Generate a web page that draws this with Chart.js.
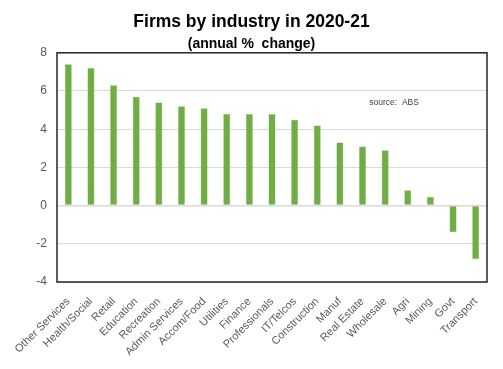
<!DOCTYPE html>
<html>
<head>
<meta charset="utf-8">
<script src="https://cdn.jsdelivr.net/npm/chart.js@4"></script>
<style>
  html, body { margin: 0; padding: 0; background: #fff; }
  #wrap { width: 503px; height: 369px; }
</style>
</head>
<body>
<div id="wrap"><canvas id="c"></canvas></div>
<script>
const industries = [
  "Other Services", "Health/Social", "Retail", "Education", "Recreation",
  "Admin Services", "Accom/Food", "Utilities", "Finance", "Professionals",
  "IT/Telcos", "Construction", "Manuf", "Real Estate", "Wholesale",
  "Agri", "Mining", "Govt", "Transport",
];
const annualChange = [
  7.4, 7.2, 6.3, 5.7, 5.4, 5.2, 5.1, 4.8, 4.8, 4.8,
  4.5, 4.2, 3.3, 3.1, 2.9, 0.8, 0.45, -1.4, -2.8,
];
const yTicks = [-4, -2, 0, 2, 4, 6, 8];
const sourceNote = "source:  ABS";

const GREEN = "#70ad47";
const GRID = "#d9d9d9";

// black box around the plot + the little source note
const frame = {
  id: "frame",
  afterDraw: (chart) => {
    const { ctx, chartArea: a, scales } = chart;
    ctx.save();
    ctx.strokeStyle = "#262626";
    ctx.lineWidth = 1.5;
    ctx.strokeRect(a.left, a.top, a.right - a.left, a.bottom - a.top);
    ctx.fillStyle = "#404040";
    ctx.font = "8.5px Arial, 'Liberation Sans'";
    ctx.textBaseline = "middle";
    ctx.fillText(sourceNote, scales.x.getPixelForValue(13.3), scales.y.getPixelForValue(5.4));
    ctx.restore();
  },
};

new Chart(document.getElementById("c"), {
  type: "bar",
  data: {
    labels: industries,
    datasets: [
      {
        data: annualChange,
        backgroundColor: GREEN,
        borderColor: "#8dc26a",
        borderWidth: 0.5,
        categoryPercentage: 1,
        barPercentage: 0.31,
      },
    ],
  },
  options: {
    responsive: true,
    maintainAspectRatio: false,
    animation: false,
    devicePixelRatio: 1,
    layout: { padding: 0 },
    plugins: {
      legend: { display: false },
      tooltip: { enabled: false },
      title: {
        display: true,
        text: "Firms by industry in 2020-21",
        color: "#000",
        font: { family: "Arial, 'Liberation Sans'", size: 17.5, weight: "bold" },
        padding: { top: 12, bottom: 3 },
      },
      subtitle: {
        display: true,
        text: "(annual %  change)",
        color: "#000",
        font: { family: "Arial, 'Liberation Sans'", size: 14, weight: "bold" },
        padding: { top: 0, bottom: 0 },
      },
    },
    scales: {
      x: {
        grid: { display: false },
        border: { display: false },
        ticks: {
          color: "#595959",
          font: { family: "Arial, 'Liberation Sans'", size: 11 },
          minRotation: 45,
          maxRotation: 45,
          padding: 5,
          autoSkip: false,
        },
        afterFit: (scale) => {
          scale.height = 87;
        },
      },
      y: {
        min: -4,
        max: 8,
        afterBuildTicks: (scale) => {
          scale.ticks = yTicks.map((v) => ({ value: v }));
        },
        grid: {
          color: GRID,
          lineWidth: (c) => (c.tick && c.tick.value === 0 ? 1.5 : 1),
          drawTicks: false,
        },
        border: { display: false },
        ticks: {
          color: "#595959",
          font: { family: "Arial, 'Liberation Sans'", size: 12 },
          padding: 10,
        },
        afterFit: (scale) => {
          scale.width = 57;
        },
      },
      // empty strip on the right so the titles stay centred on the page
      yRight: {
        display: true,
        position: "right",
        grid: { display: false },
        border: { display: false },
        ticks: { display: false },
        afterFit: (scale) => {
          scale.width = 16;
        },
      },
    },
  },
  plugins: [frame],
});
</script>
</body>
</html>
